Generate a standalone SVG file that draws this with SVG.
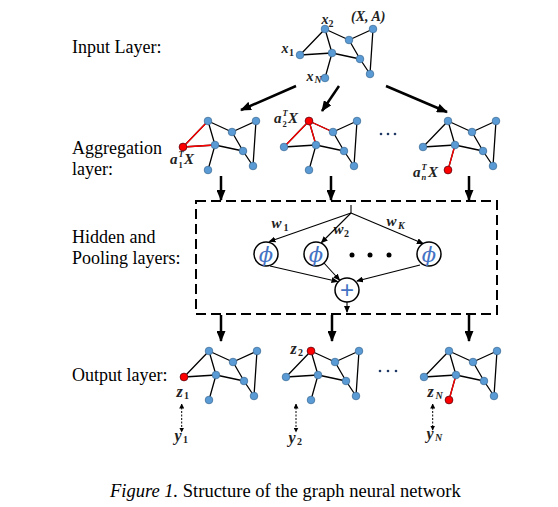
<svg xmlns="http://www.w3.org/2000/svg" xmlns:xlink="http://www.w3.org/1999/xlink" width="558" height="507" viewBox="0 0 558 507">
<style>
.lbl{font-family:"Liberation Serif","Times New Roman",serif;font-size:18px;fill:#000}
.m{font-family:"Liberation Serif","Times New Roman",serif;font-weight:bold;font-style:italic;fill:#222}
.s{font-family:"Liberation Serif","Times New Roman",serif;font-weight:bold;fill:#222}
.e{fill:none;stroke:#000;stroke-width:1.3}
.re{fill:none;stroke:#f00;stroke-width:1.3}
.n{fill:#5b9bd5;stroke:#41719c;stroke-width:0.8}
.rn{fill:#f00;stroke:#800;stroke-width:0.8}
.thick{fill:none;stroke:#000;stroke-width:2.5}
.thin{fill:none;stroke:#000;stroke-width:1.1}
.dot{fill:none;stroke:#000;stroke-width:1;stroke-dasharray:2 1.5}
.circ{fill:#fff;stroke:#000;stroke-width:1.5}
.phi{font-family:"DejaVu Serif",serif;font-style:italic;font-size:21px;fill:#4472c4;text-anchor:middle}
</style>
<defs>
<marker id="big" markerUnits="userSpaceOnUse" markerWidth="11" markerHeight="9" refX="10" refY="4.5" orient="auto"><path d="M0,0 L11,4.5 L0,9 Z" fill="#000"/></marker>
<marker id="sm" markerUnits="userSpaceOnUse" markerWidth="7" markerHeight="6" refX="6" refY="3" orient="auto"><path d="M0,0 L7,3 L0,6 Z" fill="#000"/></marker>
<marker id="tiny" markerUnits="userSpaceOnUse" markerWidth="5" markerHeight="5" refX="4.5" refY="2.5" orient="auto-start-reverse"><path d="M0,0 L5,2.5 L0,5 Z" fill="#000"/></marker>
<g id="gE"><path class="e" d="M-25 26 L0 0 M-25 26 L7 24 M0 0 L7 24 M0 0 L24 11 M24 11 L48 0 M24 11 L35 30 M7 24 L35 30 M35 30 L45 45 M48 0 L45 45 M7 24 L0 49"/></g>
<g id="gN">
<circle class="n" cx="0" cy="0" r="3.8"/><circle class="n" cx="24" cy="11" r="3.8"/><circle class="n" cx="48" cy="0" r="3.8"/><circle class="n" cx="-25" cy="26" r="3.8"/><circle class="n" cx="7" cy="24" r="3.8"/><circle class="n" cx="35" cy="30" r="3.8"/><circle class="n" cx="45" cy="45" r="3.8"/><circle class="n" cx="0" cy="49" r="3.8"/>
</g>
</defs>

<g id="labels">
<text class="lbl" x="72" y="53">Input Layer:</text>
<text class="lbl" x="72" y="154">Aggregation</text>
<text class="lbl" x="72" y="175">layer:</text>
<text class="lbl" x="72" y="243">Hidden and</text>
<text class="lbl" x="72" y="264">Pooling layers:</text>
<text class="lbl" x="72" y="381">Output layer:</text>
</g>

<g id="input" transform="translate(325,29)">
<use xlink:href="#gE"/><use xlink:href="#gN"/>
</g>
<g id="input-labels">
<text class="m" x="281.5" y="53" font-size="14">x</text><text class="s" x="289" y="56" font-size="10">1</text>
<text class="m" x="321.5" y="24" font-size="14">x</text><text class="s" x="328.5" y="27" font-size="10">2</text>
<text class="m" x="306.5" y="80.5" font-size="14">x</text><text class="m" x="314.5" y="83" font-size="10">N</text>
<text class="m" x="351" y="21" font-size="14">(X, A)</text>
</g>

<g id="agg1" transform="translate(208,121)">
<use xlink:href="#gE"/><path class="re" d="M-25 26 L0 0 M-25 26 L7 24"/><use xlink:href="#gN"/><circle class="rn" cx="-25" cy="26" r="3.8"/>
</g>
<g id="agg2" transform="translate(309,121)">
<use xlink:href="#gE"/><path class="re" d="M0 0 L-25 26 M0 0 L7 24 M0 0 L24 11"/><use xlink:href="#gN"/><circle class="rn" cx="0" cy="0" r="3.8"/>
</g>
<g id="agg3" transform="translate(448,121)">
<use xlink:href="#gE"/><path class="re" d="M7 24 L0 49"/><use xlink:href="#gN"/><circle class="rn" cx="0" cy="49" r="3.8"/>
</g>
<g id="agg-labels">
<text class="m" x="170" y="164" font-size="15">a</text><text class="m" x="178.5" y="157" font-size="8.5">T</text><text class="s" x="178.5" y="168" font-size="8.5">1</text><text class="m" x="184" y="164" font-size="15">X</text>
<text class="m" x="274" y="123" font-size="15">a</text><text class="m" x="282.5" y="116" font-size="8.5">T</text><text class="s" x="282.5" y="127" font-size="8.5">2</text><text class="m" x="288" y="123" font-size="15">X</text>
<text class="m" x="413" y="177" font-size="15">a</text><text class="m" x="421.5" y="170" font-size="8.5">T</text><text class="m" x="421.5" y="180" font-size="8.5">n</text><text class="m" x="428" y="177" font-size="15">X</text>
<circle cx="381" cy="134" r="1.3" fill="#1f3864"/><circle cx="388" cy="134" r="1.3" fill="#1f3864"/><circle cx="395" cy="134" r="1.3" fill="#1f3864"/>
</g>

<g id="hidden">
<rect x="196" y="201" width="301" height="113" fill="none" stroke="#000" stroke-width="2" stroke-dasharray="10 5"/>
<circle class="circ" cx="266" cy="254" r="12"/><text class="phi" x="266" y="261.5">ϕ</text>
<circle class="circ" cx="316" cy="254" r="12"/><text class="phi" x="316" y="261.5">ϕ</text>
<circle class="circ" cx="429" cy="254" r="12"/><text class="phi" x="429" y="261.5">ϕ</text>
<circle cx="352" cy="255" r="2.5" fill="#000"/><circle cx="370" cy="255" r="2.5" fill="#000"/><circle cx="389" cy="255" r="2.5" fill="#000"/>
<circle class="circ" cx="347" cy="290" r="12"/><text x="347" y="298" font-family="Liberation Sans, Arial, sans-serif" font-size="24" fill="#4472c4" text-anchor="middle">+</text>
<text class="m" x="271.5" y="228" font-size="15">w</text><text class="s" x="283.5" y="231" font-size="10">1</text>
<text class="m" x="333.5" y="234" font-size="15">w</text><text class="s" x="344" y="237" font-size="10">2</text>
<text class="m" x="386.5" y="226" font-size="15">w</text><text class="m" x="398" y="229" font-size="10">K</text>
</g>

<g id="out1" transform="translate(209,351)">
<use xlink:href="#gE"/><use xlink:href="#gN"/><circle class="rn" cx="-25" cy="26" r="3.8"/>
</g>
<g id="out2" transform="translate(311,351)">
<use xlink:href="#gE"/><use xlink:href="#gN"/><circle class="rn" cx="0" cy="0" r="3.8"/>
</g>
<g id="out3" transform="translate(449,351)">
<use xlink:href="#gE"/><path class="re" d="M7 24 L0 49"/><use xlink:href="#gN"/><circle class="rn" cx="0" cy="49" r="3.8"/>
</g>
<g id="out-labels">
<text class="m" x="176.5" y="397" font-size="16">z</text><text class="s" x="184" y="399" font-size="10">1</text>
<text class="m" x="290.5" y="354" font-size="16">z</text><text class="s" x="298" y="356" font-size="10">2</text>
<text class="m" x="427.5" y="397" font-size="16">z</text><text class="m" x="435.5" y="399" font-size="10">N</text>
<text class="m" x="174.5" y="441" font-size="16">y</text><text class="s" x="183" y="443" font-size="10">1</text>
<text class="m" x="288.5" y="443" font-size="16">y</text><text class="s" x="297" y="445" font-size="10">2</text>
<text class="m" x="426.5" y="439" font-size="16">y</text><text class="m" x="435" y="441" font-size="10">N</text>
<circle cx="380" cy="371" r="1.3" fill="#1f3864"/><circle cx="388" cy="371" r="1.3" fill="#1f3864"/><circle cx="396" cy="371" r="1.3" fill="#1f3864"/>
</g>

<g id="connectors">
<path class="thick" d="M296 86 L241 110" marker-end="url(#big)"/>
<path class="thick" d="M339 86 L322 111" marker-end="url(#big)"/>
<path class="thick" d="M386 86 L447 112" marker-end="url(#big)"/>
<path class="thick" d="M221 176 L221 200" marker-end="url(#big)"/>
<path class="thick" d="M331 176 L331 200" marker-end="url(#big)"/>
<path class="thick" d="M469 176 L469 200" marker-end="url(#big)"/>
<path class="thick" d="M221 315 L221 341" marker-end="url(#big)"/>
<path class="thick" d="M332 315 L332 341" marker-end="url(#big)"/>
<path class="thick" d="M469 315 L469 341" marker-end="url(#big)"/>
<path class="thin" d="M351 205 L351 213"/>
<path class="thin" d="M351 213 L269.5 241.5" marker-end="url(#sm)"/>
<path class="thin" d="M351 213 L321.5 242.5" marker-end="url(#sm)"/>
<path class="thin" d="M351 213 L423 243.5" marker-end="url(#sm)"/>
<path class="thin" d="M270 266 L337.5 281.5" marker-end="url(#sm)"/>
<path class="thin" d="M324 263 L339.5 280" marker-end="url(#sm)"/>
<path class="thin" d="M420 265 L357 281" marker-end="url(#sm)"/>
<path class="thin" d="M347 302 L347 312" marker-end="url(#sm)"/>
<path class="dot" d="M181.7 404 L181.7 432" marker-start="url(#tiny)" marker-end="url(#tiny)"/>
<path class="dot" d="M296 404 L296 432" marker-start="url(#tiny)" marker-end="url(#tiny)"/>
<path class="dot" d="M432.7 404 L432.7 430" marker-start="url(#tiny)" marker-end="url(#tiny)"/>
</g>

<text class="lbl" x="110" y="497" style="font-size:18.5px"><tspan font-style="italic">Figure 1.</tspan> Structure of the graph neural network</text>
</svg>
